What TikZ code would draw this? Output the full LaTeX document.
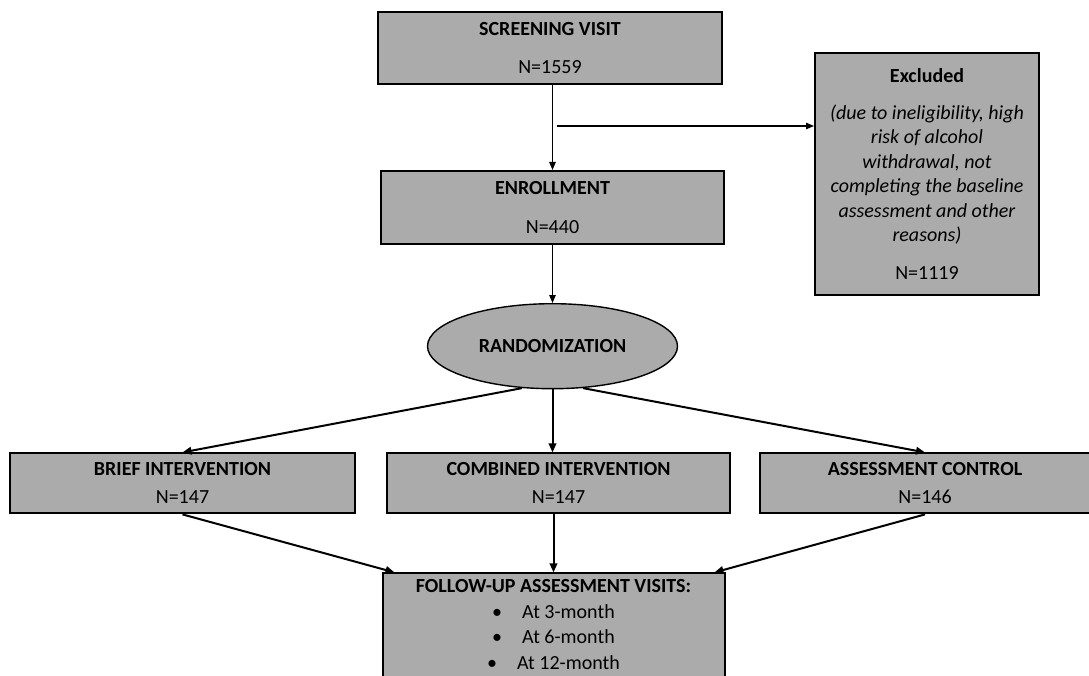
\documentclass[tikz,border=0pt]{standalone}
\usepackage{fontspec}
\setmainfont{Carlito}
\usetikzlibrary{shapes.geometric, arrows.meta, positioning, calc}
\definecolor{boxgray}{RGB}{171,171,171}

\begin{document}
\begin{tikzpicture}[
          x=1pt, y=-1pt,
          box/.style={draw, line width=2pt, fill=boxgray, align=center, inner sep=0pt, font=\fontsize{20}{24.5}\selectfont},
          oval/.style={draw, ellipse, line width=1.4pt, fill=boxgray, inner sep=0pt, minimum width=250pt, minimum height=85pt, font=\fontsize{20}{24.5}\selectfont\bfseries},
          thinarrow/.style={-{Triangle[length=8pt,width=6.5pt]}, line width=1.2pt},
          thickarrow/.style={-{Triangle[length=9pt,width=7.5pt]}, line width=2pt}
        ]
          \useasboundingbox (0,0) rectangle (1089,676);

          % ノードの配置
          \node[box, minimum width=344pt, minimum height=72pt] (screen) at (550,48) {\textbf{SCREENING VISIT}\\[14pt] N=1559};
          \node[box, minimum width=343pt, minimum height=73pt, below=85pt of screen, xshift=2.5pt] (enroll) {\textbf{ENROLLMENT}\\[14pt] N=440};
          \node[box, minimum width=224pt, minimum height=242pt] (excl) at (927,174) {\textbf{Excluded}\\[12pt]
            \textit{(due to ineligibility, high}\\ \textit{risk of alcohol}\\ \textit{withdrawal, not}\\
            \textit{completing the baseline}\\ \textit{assessment and other}\\ \textit{reasons)}\\[13pt] N=1119};
          \node[oval, below=58pt of enroll] (rand) {RANDOMIZATION};
          \node[box, minimum width=343pt, minimum height=60pt, below=63pt of rand, xshift=6pt] (comb) {\textbf{COMBINED INTERVENTION}\\[3.5pt] N=147};
          \node[box, minimum width=345pt, minimum height=60pt, left=30pt of comb] (brief) {\textbf{BRIEF INTERVENTION}\\[3.5pt] N=147};
          \node[box, minimum width=330pt, minimum height=60pt, right=28pt of comb] (ctrl) {\textbf{ASSESSMENT CONTROL}\\[3.5pt] N=146};
          \node[box, minimum width=342pt, minimum height=116pt, below=58pt of comb, xshift=-5pt,
                font=\fontsize{20}{25.5}\selectfont] (follow) {\textbf{FOLLOW-UP ASSESSMENT VISITS:}\\
            \textbullet\quad At 3-month\\ \textbullet\quad At 6-month\\ \textbullet\quad At 12-month\\[-12pt]\mbox{}};

          % 矢印
          \draw[thinarrow] (screen.south -| enroll.north) -- (enroll.north);
          \coordinate (split) at ($(screen.south -| enroll.north)+(4,41)$);
          \draw[thinarrow] (split) -- (split -| excl.west);
          \draw[thinarrow] (enroll.south) -- (rand.north);
          \draw[thickarrow] (rand.234) -- (brief.north);
          \draw[thickarrow] (rand.south) -- (rand.south |- comb.north);
          \draw[thickarrow] (rand.306) -- (ctrl.north);
          \draw[thickarrow] (brief.south) -- ($(follow.north west)+(13,0)$);
          \draw[thickarrow] (comb.south -| follow.north) -- (follow.north);
          \draw[thickarrow] (ctrl.south) -- ($(follow.north east)+(-11,0)$);
        \end{tikzpicture}
\end{document}
